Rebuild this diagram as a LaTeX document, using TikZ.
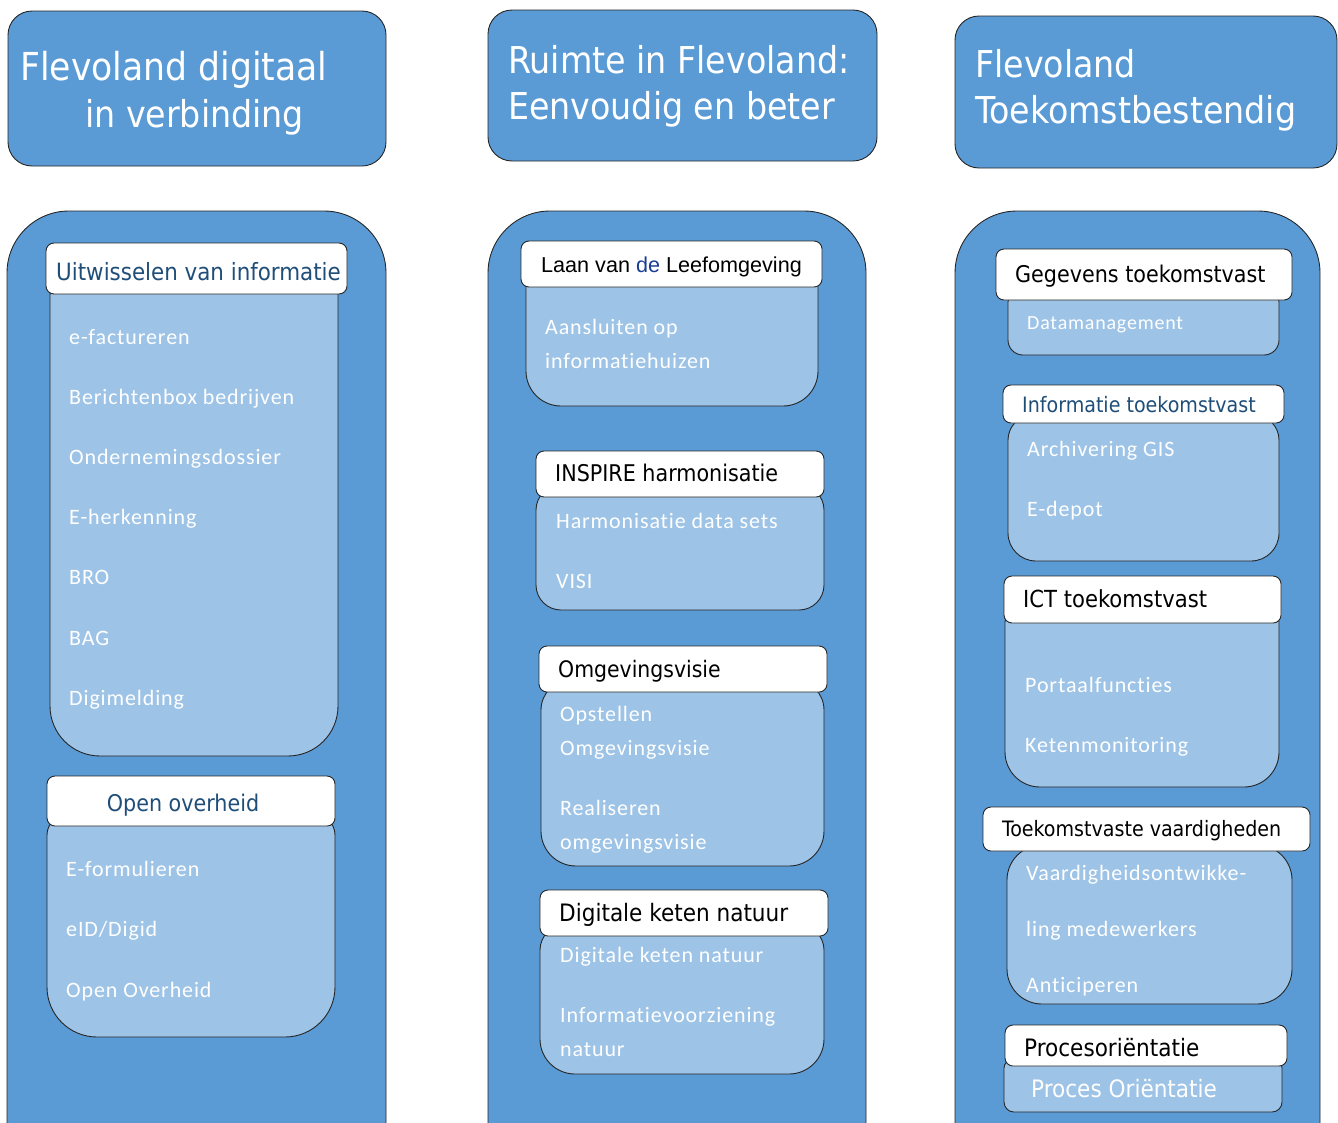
\documentclass[tikz,border=0pt]{standalone}
\usepackage{fontspec}
\setmainfont{Carlito}
\newfontfamily\calsp[LetterSpace=4,Ligatures=NoCommon]{Carlito}
\newfontfamily\tah{DejaVu Sans Condensed}
\newfontfamily\ari{Liberation Sans}
\definecolor{colblue}{HTML}{5B9BD5}
\definecolor{innerblue}{HTML}{9DC3E6}
\definecolor{darkblue}{HTML}{1F4E79}
\tikzset{
  colbox/.style={draw=black!85, fill=colblue, line width=0.9pt, rounded corners=62pt},
  titlebox/.style={draw=black!85, fill=colblue, line width=0.9pt, rounded corners=24pt},
  labbox/.style={draw=black!85, fill=white, line width=0.9pt, rounded corners=8pt},
  innbox/.style={draw=black!85, fill=innerblue, line width=0.9pt},
  ttl/.style={anchor=base west, inner sep=0pt, text=white, font=\tah\fontsize{37}{40}\selectfont},
  lab/.style={anchor=base west, inner sep=0pt, font=\tah\fontsize{23}{26}\selectfont},
  itm/.style={anchor=base west, inner sep=0pt, text=white, font=\calsp\fontsize{22}{24}\selectfont}
}
% inner box: x1,y1,x2,y2, top radius, bottom radius
\newcommand{\ibox}[6]{%
  \draw[innbox] (#1,{(#2+#4)/2}) [rounded corners=#5pt] -- (#1,#2) -- (#3,#2) -- (#3,{(#2+#4)/2})
    [rounded corners=#6pt] -- (#3,#4) -- (#1,#4) -- cycle;}

\begin{document}
\begin{tikzpicture}[x=1pt,y=-1pt]
  \useasboundingbox (0,0) rectangle (1338,1122);
  \clip (0,0) rectangle (1338,1122);

  % column 1
  \draw[titlebox] (8,11) rectangle (386,166);
  \node[ttl,font=\tah\fontsize{38.5}{40}\selectfont] (t1a) at (20,80) {Flevoland digitaal};
  \node[ttl] (t1b) at (85,127) {in verbinding};
  \draw[colbox] (7,211) rectangle (386,1220);
  \ibox{50}{270}{338}{756}{25}{50}
  \draw[labbox] (46,243) rectangle (347,294);
  \node[lab,text=darkblue,font=\tah\fontsize{23.8}{26}\selectfont] (uit) at (56,280) {Uitwisselen van informatie};
  \foreach \t [count=\i] in {e-factureren,Berichtenbox bedrijven,Ondernemingsdossier,
      E-herkenning,BRO,BAG,Digimelding}
    \node[itm] (a\i) at (69,{344+60.2*(\i-1)}) {\t};
  \ibox{47}{815}{335}{1037}{20}{50}
  \draw[labbox] (47,776) rectangle (335,826);
  \node[lab,text=darkblue,anchor=base] (open) at (183,811) {Open overheid};
  \foreach \t [count=\i] in {E-formulieren,eID/Digid,Open Overheid}
    \node[itm] (b\i) at (66,{876+60.5*(\i-1)}) {\t};

  % column 2
  \draw[titlebox] (488,10) rectangle (877,161);
  \node[ttl] (t2a) at (508,73) {Ruimte in Flevoland:};
  \node[ttl] (t2b) at (508,119) {Eenvoudig en beter};
  \draw[colbox] (488,211) rectangle (866,1220);
  \ibox{526}{270}{818}{406}{15}{35}
  \draw[labbox] (521,241) rectangle (822,287);
  \node[anchor=base west,inner sep=0pt,font=\ari\fontsize{21.6}{24}\selectfont] (laan) at (541,272)
    {Laan van {\color{darkblue!80!blue}de} Leefomgeving};
  \node[itm] (c1) at (545,334) {Aansluiten op};
  \node[itm] (c2) at (545,368) {informatiehuizen};
  \ibox{536}{485}{824}{610}{25}{25}
  \draw[labbox] (536,451) rectangle (824,497);
  \node[lab] (insp) at (555,481) {INSPIRE harmonisatie};
  \node[itm] (d1) at (556,528) {Harmonisatie data sets};
  \node[itm] (d2) at (556,588) {VISI};
  \ibox{541}{680}{824}{866}{30}{35}
  \draw[labbox] (539,646) rectangle (827,692);
  \node[lab,font=\tah\fontsize{22.7}{26}\selectfont] (omg) at (558,677) {Omgevingsvisie};
  \node[itm] (e1) at (560,721) {Opstellen};
  \node[itm] (e2) at (560,755) {Omgevingsvisie};
  \node[itm] (e3) at (560,815) {Realiseren};
  \node[itm] (e4) at (560,849) {omgevingsvisie};
  \ibox{540}{925}{824}{1074}{25}{35}
  \draw[labbox] (540,890) rectangle (828,936);
  \node[lab,font=\tah\fontsize{24}{26}\selectfont] (dig) at (559,921) {Digitale keten natuur};
  \node[itm] (f1) at (560,962) {Digitale keten natuur};
  \node[itm] (f2) at (560,1022) {Informatievoorziening};
  \node[itm] (f3) at (560,1056) {natuur};

  % column 3
  \draw[titlebox] (955,16) rectangle (1337,168);
  \node[ttl] (t3a) at (975,77) {Flevoland};
  \node[ttl] (t3b) at (975,123) {Toekomstbestendig};
  \draw[colbox] (955,211) rectangle (1320,1220);
  \ibox{1008}{290}{1279}{355}{12}{15}
  \draw[labbox] (996,249) rectangle (1292,300);
  \node[lab] (geg) at (1015,282) {Gegevens toekomstvast};
  \node[itm,font=\calsp\fontsize{20}{24}\selectfont] (g1) at (1027,329) {Datamanagement};
  \ibox{1008}{415}{1279}{561}{25}{28}
  \draw[labbox] (1003,385) rectangle (1284,423);
  \node[lab,text=darkblue,font=\tah\fontsize{21.2}{24}\selectfont] (inf) at (1022,412) {Informatie toekomstvast};
  \node[itm] (h1) at (1027,456) {Archivering GIS};
  \node[itm] (h2) at (1027,516) {E-depot};
  \ibox{1005}{612}{1279}{787}{10}{35}
  \draw[labbox] (1004,576) rectangle (1281,623);
  \node[lab,font=\tah\fontsize{23.5}{26}\selectfont] (ict) at (1023,607) {ICT toekomstvast};
  \node[itm] (i1) at (1025,692) {Portaalfuncties};
  \node[itm] (i2) at (1025,752) {Ketenmonitoring};
  \ibox{1007}{845}{1292}{1004}{35}{35}
  \draw[labbox] (983,807) rectangle (1310,851);
  \node[lab,font=\tah\fontsize{21.2}{24}\selectfont] (vaa) at (1002,836) {Toekomstvaste vaardigheden};
  \node[itm] (j1) at (1026,880) {Vaardigheidsontwikke-};
  \node[itm] (j2) at (1026,936) {ling medewerkers};
  \node[itm] (j3) at (1026,992) {Anticiperen};
  \ibox{1004}{1060}{1282}{1112}{8}{10}
  \draw[labbox] (1005,1025) rectangle (1287,1066);
  \node[lab,font=\tah\fontsize{24}{26}\selectfont] (proc) at (1024,1056) {Procesoriëntatie};
  \node[lab,text=white,font=\tah\fontsize{24}{26}\selectfont] (k1) at (1031,1097) {Proces Oriëntatie};
\end{tikzpicture}
\end{document}
